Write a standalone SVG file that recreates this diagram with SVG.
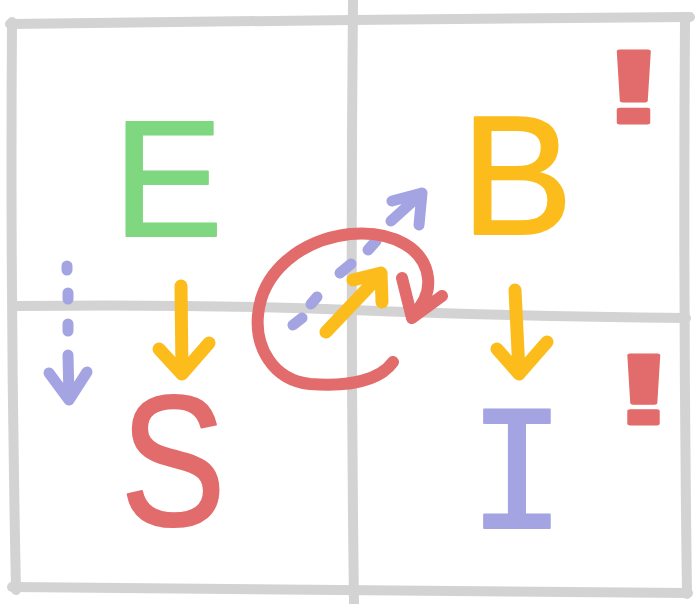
<svg xmlns="http://www.w3.org/2000/svg" width="696" height="604" viewBox="0 0 696 604">
<defs>
<style>
.grid{fill:none;stroke:#d3d3d3;stroke-width:10;stroke-linecap:round;stroke-linejoin:round}
.ln{fill:none;stroke-linecap:round;stroke-linejoin:round}
.or{stroke:#fcbd1c;stroke-width:13}
.bl{stroke:#a4a4e2;stroke-width:11}
.rd{stroke:#e26b6c;stroke-width:12}
.let{font-family:"Liberation Sans",Arial,sans-serif;stroke-width:2;stroke-linejoin:round;text-anchor:middle}
.exc{font-family:"Liberation Sans",Arial,sans-serif;font-weight:bold;fill:#e26b6c;stroke:#e26b6c;stroke-width:3;stroke-linejoin:round;text-anchor:middle}
</style>
</defs>
<rect width="696" height="604" fill="#ffffff"/>
<g id="grid">
<path class="grid" d="M10 24 Q180 22 352 20 T690 17"/>
<path class="grid" d="M12 22 Q10 300 16 590"/>
<path class="grid" d="M685 18 Q683 300 687 594"/>
<path class="grid" d="M12 587 Q350 589 688 593"/>
<path class="grid" d="M353 0 Q350 300 354 604"/>
<path class="grid" d="M18 306 Q200 304 352 310 T686 318"/>
</g>
<g id="node-E"><text class="let" x="168" y="236" font-size="165" fill="#7fd780" stroke="#7fd780">E</text></g>
<g id="node-S"><text class="let" transform="translate(173 525) scale(0.95 1.12)" x="0" y="0" font-size="166" fill="#e26b6c" stroke="#e26b6c">S</text></g>
<g id="node-B"><text class="let" x="517" y="234" font-size="168" fill="#fcbd1c" stroke="#fcbd1c">B</text></g>
<g id="node-I"><text class="let" x="517" y="528" font-size="162" fill="#a4a4e2" stroke="#a4a4e2" style="font-family:'DejaVu Sans Mono',monospace">I</text></g>
<g id="mark-1"><text class="exc" transform="translate(634 123) scale(1.9 1)" x="0" y="0" font-size="104">!</text></g>
<g id="mark-2"><text class="exc" transform="translate(644 424) scale(1.9 1)" x="0" y="0" font-size="100">!</text></g>
<g id="connectors">
<path class="ln or" d="M181 286 L182 372 M159 349 L182 374 L209 343"/>
<path class="ln or" d="M515 290 L519 372 M497 349 L519 374 L547 342"/>
<path class="ln or" d="M326 332 L381 274 M353 280 L381 273 L382 302"/>
<path class="ln bl" d="M67 266 L67 270 M68 293 L68 299 M68 324 L68 331 M68 355 L69 398 M49 373 L69 400 L87 372"/>
<path class="ln bl" d="M293 325 L302 318 M311 304 L317 297 M340 273 L351 264 M368 250 L376 241 M391 221 L422 193 M392 201 L422 193 L419 225"/>
<path class="ln rd" d="M393 362 C380 380 350 387 310 384 C272 380 255 346 258 315 C262 272 300 240 350 234 C395 230 425 250 428 278 C430 295 420 308 413 315 M402 278 L412 318 L442 296"/>
</g>
</svg>
